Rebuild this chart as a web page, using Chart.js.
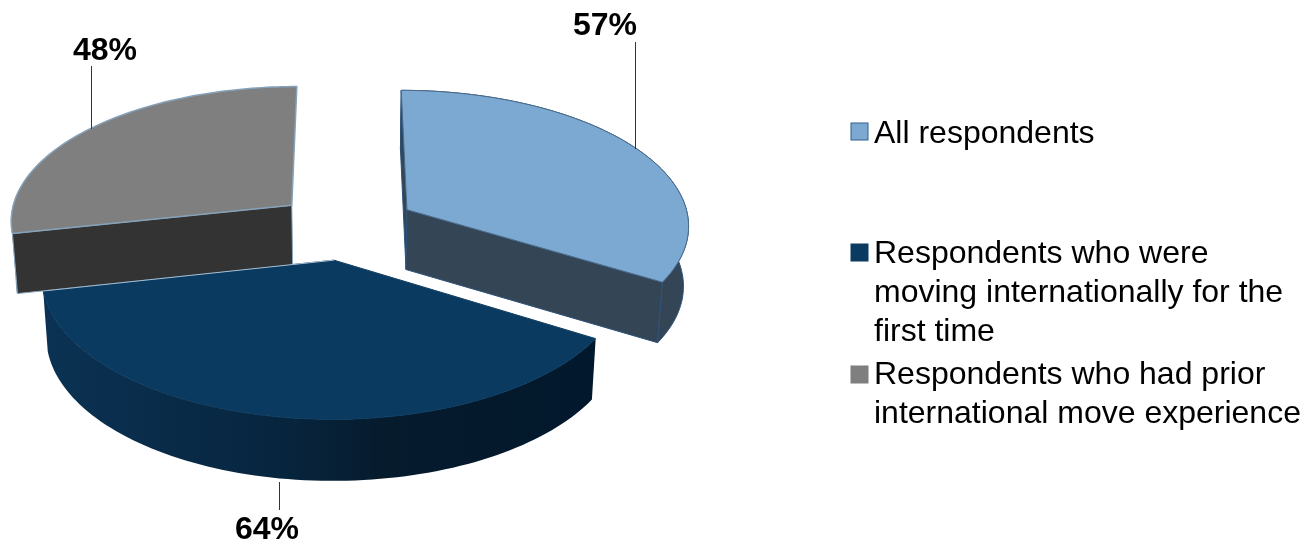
<!DOCTYPE html>
<html>
<head>
<meta charset="utf-8">
<style>html,body{margin:0;padding:0;background:#fff}canvas{display:block}</style>
<script src="https://cdn.jsdelivr.net/npm/chart.js@4/dist/chart.umd.js"></script>
</head>
<body>
<div style="width:1305px;height:543px"><canvas id="pie" width="1305" height="543"></canvas></div>
<script>
// Survey shares per respondent group
const legendLines = [
  ['All respondents'],
  ['Respondents who were', 'moving internationally for the', 'first time'],
  ['Respondents who had prior', 'international move experience']
];
const categories = legendLines.map(l => l.join(' '));
const shares = [57, 64, 48];

// Appearance of each slice: top face, walls, outlines
const topColors = ['#7CA9D2', '#0A3A60', '#7F7F7F'];
const wallColors = ['#344556', '#07233B', '#333333'];
const edgeColors = ['#4A6A8A', '#0A3A60', '#86A2BA'];
const wallEdgeColors = ['#2C5278', '#07233B', '#8CA6BC'];
const navyRimStops = [[0, '#0B3253'], [0.45, '#07243D'], [0.62, '#061B2C'], [1, '#02182C']];
const navyLitEdge = '#A9BFD1';

// Tilted-disc projection parameters
const RX = 283, RY = 135, PERSP = 0.104;
const DEPTH = 60, DEPTH_PERSP = 0.02, BOTTOM_SHRINK = 0.985;

const FONT = '"Liberation Sans", Arial, sans-serif';
const calloutLayout = [
  {tx: 605, ty: 26, x: 635, y0: 42, y1: 149},
  {tx: 267, ty: 530, x: 279, y0: 482, y1: 510},
  {tx: 105, ty: 51, x: 91, y0: 66, y1: 129}
];
const legendLayout = [
  {sy: 123, base: [143]},
  {sy: 244, base: [263, 302, 341]},
  {sy: 366, base: [384, 423]}
];

function project(cx, cy, u, z, lower) {
  const w = 1 + PERSP * z;
  let x = RX * u / w;
  let y = -RY * z / w;
  if (lower) {
    x *= BOTTOM_SHRINK;
    y += DEPTH / (1 + DEPTH_PERSP * z);
  }
  return [cx + x, cy + y];
}

// Samples a slice's outline from the arc geometry computed by the pie controller
function sliceGeometry(arc) {
  const o = arc.options.offset / arc.outerRadius;
  const mid = (arc.startAngle + arc.endAngle) / 2;
  const ox = Math.cos(mid) * o, oy = Math.sin(mid) * o;
  const pt = (a, r, lower) =>
    project(arc.x, arc.y, ox + Math.cos(a) * r, -(oy + Math.sin(a) * r), lower);
  const n = 90, top = [], bottom = [];
  for (let i = 0; i <= n; i++) {
    const a = arc.startAngle + (arc.endAngle - arc.startAngle) * i / n;
    top.push(pt(a, 1, false));
    bottom.push(pt(a, 1, true));
  }
  return {apexTop: pt(0, 0, false), apexBottom: pt(0, 0, true), top, bottom};
}

function tracePath(ctx, pts) {
  ctx.beginPath();
  pts.forEach((p, i) => i ? ctx.lineTo(p[0], p[1]) : ctx.moveTo(p[0], p[1]));
  ctx.closePath();
}

const tiltedPie = {
  id: 'tiltedPie',
  beforeDatasetsDraw(chart) {
    const ctx = chart.ctx;
    const arcs = chart.getDatasetMeta(0).data;
    ctx.save();
    ctx.lineJoin = 'round';
    [2, 0, 1].forEach(i => {
      const g = sliceGeometry(arcs[i]);
      const last = g.top.length - 1;
      // outer rim; only the camera-facing part of the grey slice is drawn
      const rimEnd = i === 2 ? 40 : last;
      tracePath(ctx, g.top.slice(0, rimEnd + 1).concat(g.bottom.slice(0, rimEnd + 1).reverse()));
      if (i === 1) {
        const grad = ctx.createLinearGradient(48, 0, 592, 0);
        navyRimStops.forEach(s => grad.addColorStop(s[0], s[1]));
        ctx.fillStyle = grad;
      } else {
        ctx.fillStyle = wallColors[i];
      }
      ctx.fill();
      if (i !== 1) {
        ctx.strokeStyle = wallEdgeColors[i];
        ctx.lineWidth = 1;
        ctx.stroke();
      }
      // radial walls; the grey slice's rear wall stays hidden
      const walls = [[g.top[0], g.bottom[0]]];
      if (i !== 2) walls.push([g.top[last], g.bottom[last]]);
      if (i === 1) walls.length = 0;
      walls.forEach(([t, b]) => {
        tracePath(ctx, [g.apexTop, t, b, g.apexBottom]);
        ctx.fillStyle = wallColors[i];
        ctx.fill();
        ctx.strokeStyle = wallEdgeColors[i];
        ctx.lineWidth = 1;
        ctx.stroke();
      });
      // top face
      tracePath(ctx, [g.apexTop].concat(g.top));
      ctx.fillStyle = topColors[i];
      ctx.fill();
      ctx.strokeStyle = edgeColors[i];
      ctx.lineWidth = i === 2 ? 1.5 : 1;
      ctx.stroke();
      if (i === 1) {
        ctx.beginPath();
        ctx.moveTo(g.apexTop[0], g.apexTop[1]);
        ctx.lineTo(g.top[last][0], g.top[last][1]);
        ctx.strokeStyle = navyLitEdge;
        ctx.lineWidth = 1;
        ctx.stroke();
      }
    });
    ctx.restore();
    return false;
  },
  afterDraw(chart) {
    const ctx = chart.ctx;
    const values = chart.data.datasets[0].data;
    ctx.save();
    // value callouts
    ctx.font = 'bold 32px ' + FONT;
    ctx.textAlign = 'center';
    ctx.textBaseline = 'middle';
    values.forEach((v, i) => {
      const c = calloutLayout[i];
      ctx.strokeStyle = '#333333';
      ctx.lineWidth = 1;
      ctx.beginPath();
      ctx.moveTo(c.x + 0.5, c.y0);
      ctx.lineTo(c.x + 0.5, c.y1);
      ctx.stroke();
      ctx.fillStyle = '#000';
      ctx.fillText(v + '%', c.tx, c.ty);
    });
    // legend
    ctx.font = '32px ' + FONT;
    ctx.textAlign = 'left';
    ctx.textBaseline = 'alphabetic';
    legendLines.forEach((lines, i) => {
      const l = legendLayout[i];
      ctx.fillStyle = topColors[i];
      ctx.fillRect(851, l.sy, 17, 17);
      ctx.strokeStyle = i === 0 ? '#2C6090' : topColors[i];
      ctx.lineWidth = 1;
      ctx.strokeRect(851, l.sy, 17, 17);
      ctx.fillStyle = '#000';
      lines.forEach((t, k) => ctx.fillText(t, 874, l.base[k]));
    });
    ctx.restore();
  }
};

new Chart(document.getElementById('pie'), {
  type: 'pie',
  data: {
    labels: categories,
    datasets: [{data: shares, backgroundColor: topColors, offset: 50, borderWidth: 0}]
  },
  options: {
    responsive: false,
    animation: false,
    radius: 200,
    layout: {padding: {left: 0, top: 0, right: 613, bottom: 91}},
    plugins: {legend: {display: false}, tooltip: {enabled: false}}
  },
  plugins: [tiltedPie]
});
</script>
</body>
</html>
